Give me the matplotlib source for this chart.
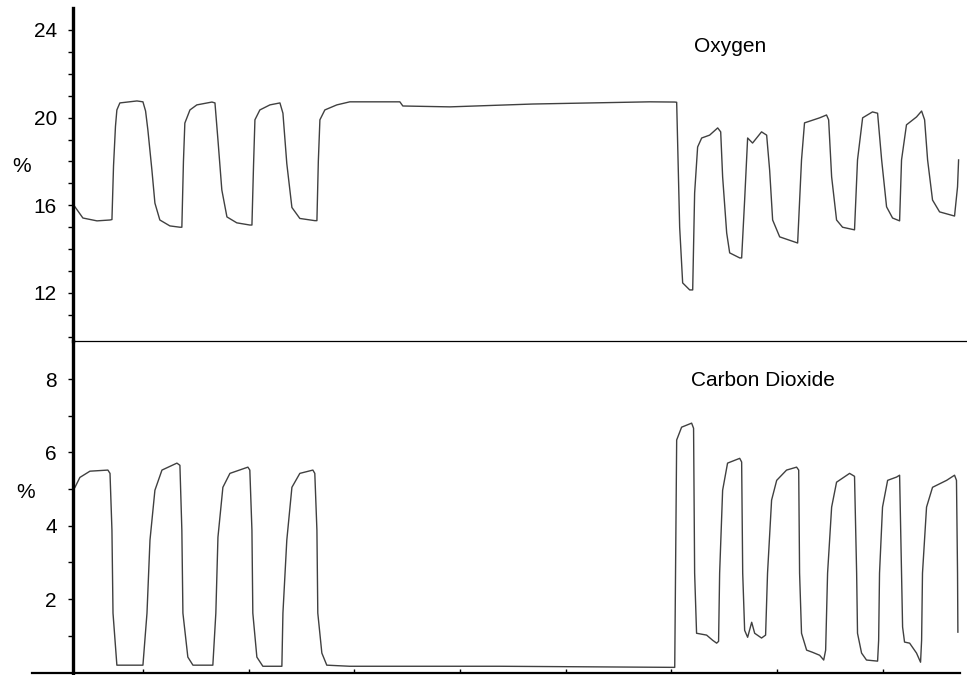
import matplotlib
matplotlib.use('Agg')
import matplotlib.pyplot as plt
from matplotlib.lines import Line2D

plt.rcParams['font.family'] = ['Liberation Sans', 'DejaVu Sans']

# time in seconds (x ticks every 60 s), values in %
o2_time = [21.4, 25.9, 33.9, 41.3, 42.4, 43.3, 44.4, 45.2, 46.9, 56.6, 60.0, 61.5, 62.8, 65.1, 66.8,
           69.6, 75.3, 81.0, 82.1, 83.0, 83.8, 86.7, 90.6, 99.2, 100.9, 102.6, 104.8, 107.7, 113.3,
           120.7, 121.9, 122.8, 123.6, 126.4, 132.1, 137.8, 139.5, 141.7, 144.6, 149.1, 157.6, 158.8,
           159.6, 160.5, 163.3, 170.1, 177.5, 205.9, 207.6, 234.3, 281.4, 347.8, 362.0, 363.1, 364.8,
           366.5, 370.5, 372.2, 373.3, 375.0, 377.3, 381.8, 386.4, 388.1, 389.2, 391.5, 393.2, 398.9,
           400.0, 401.7, 403.4, 406.2, 411.3, 414.2, 415.9, 417.6, 421.6, 431.8, 434.0, 435.7, 444.3,
           448.2, 449.4, 451.1, 453.9, 457.3, 464.1, 465.8, 468.7, 474.3, 477.2, 479.5, 482.3, 485.7,
           489.7, 490.8, 493.6, 499.3, 502.2, 503.9, 505.6, 508.4, 512.4, 520.9, 522.6, 523.2]
o2_pct = [15.93, 15.42, 15.29, 15.33, 15.35, 17.8, 19.6, 20.35, 20.67, 20.76, 20.72, 20.3, 19.44, 17.6,
          16.1, 15.33, 15.06, 15.0, 15.0, 18.0, 19.75, 20.35, 20.58, 20.71, 20.67, 18.98, 16.7, 15.47,
          15.2, 15.1, 15.1, 17.8, 19.9, 20.35, 20.58, 20.67, 20.2, 17.9, 15.9, 15.4, 15.3, 15.3,
          18.0, 19.9, 20.35, 20.58, 20.72, 20.72, 20.53, 20.49, 20.62, 20.72, 20.71, 20.7, 15.0,
          12.46, 12.14, 12.14, 16.56, 18.66, 19.07, 19.2, 19.53, 19.35, 17.3, 14.74, 13.83, 13.6,
          13.6, 16.24, 19.07, 18.84, 19.35, 19.2, 17.6, 15.33, 14.56, 14.28, 18.07, 19.76, 19.99,
          20.12, 19.9, 17.3, 15.33, 15.0, 14.88, 18.07, 19.99, 20.26, 20.2, 18.07, 15.93, 15.42,
          15.29, 18.07, 19.67, 20.03, 20.3, 19.9, 18.07, 16.24, 15.7, 15.51, 16.84, 18.07]

co2_time = [21.4, 24.2, 29.9, 40.1, 41.3, 42.4, 43.0, 45.2, 60.0, 62.3, 64.0, 66.8, 70.8, 79.3, 81.0,
            82.1, 82.7, 85.5, 88.4, 99.7, 101.4, 102.6, 105.4, 109.4, 119.6, 120.7, 121.9, 122.4,
            124.7, 128.1, 138.9, 139.5, 141.7, 144.6, 149.1, 156.5, 157.6, 158.8, 159.3, 161.6, 164.4,
            177.5, 262.6, 362.0, 363.1, 365.9, 371.6, 372.7, 373.3, 374.4, 380.1, 383.5, 385.8, 386.9,
            387.5, 389.2, 392.0, 398.9, 400.0, 400.6, 401.7, 403.4, 405.7, 407.4, 411.3, 413.6, 414.7,
            417.0, 419.9, 425.5, 431.2, 432.4, 432.9, 434.0, 436.9, 440.3, 444.3, 446.6, 447.7, 448.8,
            451.1, 453.9, 461.3, 464.1, 465.3, 465.8, 468.1, 470.9, 477.2, 477.8, 478.3, 480.0, 482.9,
            488.0, 489.7, 490.8, 491.4, 492.5, 495.4, 499.3, 501.6, 502.2, 502.7, 505.0, 508.4, 516.4,
            520.9, 522.0, 522.6, 522.8]
co2_pct = [5.05, 5.32, 5.49, 5.52, 5.43, 3.88, 1.62, 0.2, 0.2, 1.62, 3.61, 4.97, 5.52, 5.71, 5.65,
           3.88, 1.62, 0.42, 0.2, 0.2, 1.62, 3.69, 5.05, 5.43, 5.6, 5.52, 3.88, 1.62,
           0.42, 0.17, 0.17, 1.62, 3.61, 5.05, 5.43, 5.52, 5.43, 3.88, 1.62, 0.53, 0.2,
           0.17, 0.17, 0.14, 6.34, 6.69, 6.8, 6.66, 2.71, 1.07, 1.02, 0.88, 0.8, 0.85,
           2.71, 4.97, 5.71, 5.84, 5.74, 2.71, 1.15, 0.96, 1.37, 1.07, 0.94, 1.02, 2.71,
           4.7, 5.24, 5.52, 5.6, 5.52, 2.71, 1.07, 0.61, 0.55, 0.47, 0.34, 0.61, 2.71,
           4.51, 5.19, 5.43, 5.35, 2.71, 1.07, 0.53, 0.34, 0.31, 0.88, 2.71, 4.51, 5.24,
           5.33, 5.38, 2.71, 1.24, 0.83, 0.8, 0.53, 0.28, 0.88, 2.71, 4.51, 5.05, 5.24,
           5.38, 5.24, 2.71, 1.1]

W, H = 967, 675
fig = plt.figure(figsize=(W / 100, H / 100), dpi=100)
x0, x1 = 32 / W, 960 / W
ax1 = fig.add_axes([x0, (H - 341) / H, x1 - x0, (341 - 8) / H])
ax2 = fig.add_axes([x0, (H - 672.5) / H, x1 - x0, (672.5 - 341) / H], sharex=ax1)

line_col = '#404040'
ax1.plot(o2_time, o2_pct, color=line_col, lw=1.0)
ax2.plot(co2_time, co2_pct, color=line_col, lw=1.0)

ax1.set_xlim(-3, 524)
ax1.set_ylim(9.81, 25.0)
ax2.set_ylim(0, 9.04)

fs = 15
for ax in (ax1, ax2):
    ax.spines['right'].set_visible(False)
    ax.spines['top'].set_visible(False)
    ax.spines['left'].set_position(('data', 20.3))
    ax.spines['left'].set_linewidth(2.4)
    ax.tick_params(axis='y', direction='out', length=3.6, width=1, pad=8,
                   labelsize=fs, colors='black')
    ax.tick_params(axis='y', which='minor', direction='out', length=3.6, width=1)
    ax.set_facecolor('none')

ax1.spines['bottom'].set_visible(False)
ax1.tick_params(axis='x', bottom=False, labelbottom=False)
ax1.set_yticks([12, 16, 20, 24])
ax1.set_yticks(range(10, 25), minor=True)

ax2.set_yticks([2, 4, 6, 8])
ax2.set_yticks(range(1, 9), minor=True)
ax2.spines['bottom'].set_linewidth(1.6)
ax2.set_xticks(range(60, 481, 60))
ax2.tick_params(axis='x', direction='in', length=3, width=1, labelbottom=False)

# separator between the two panels
fig.add_artist(Line2D([73 / W, 1.0], [(H - 341) / H] * 2, color='black', lw=0.9))

fig.text(12 / W, (H - 167) / H, '%', fontsize=fs, va='center', ha='left')
fig.text(16 / W, (H - 492) / H, '%', fontsize=fs, va='center', ha='left')
fig.text(694 / W, (H - 47) / H, 'Oxygen', fontsize=fs, va='center', ha='left')
fig.text(691 / W, (H - 381) / H, 'Carbon Dioxide', fontsize=fs, va='center', ha='left')

fig.savefig('out.png', dpi=100)
